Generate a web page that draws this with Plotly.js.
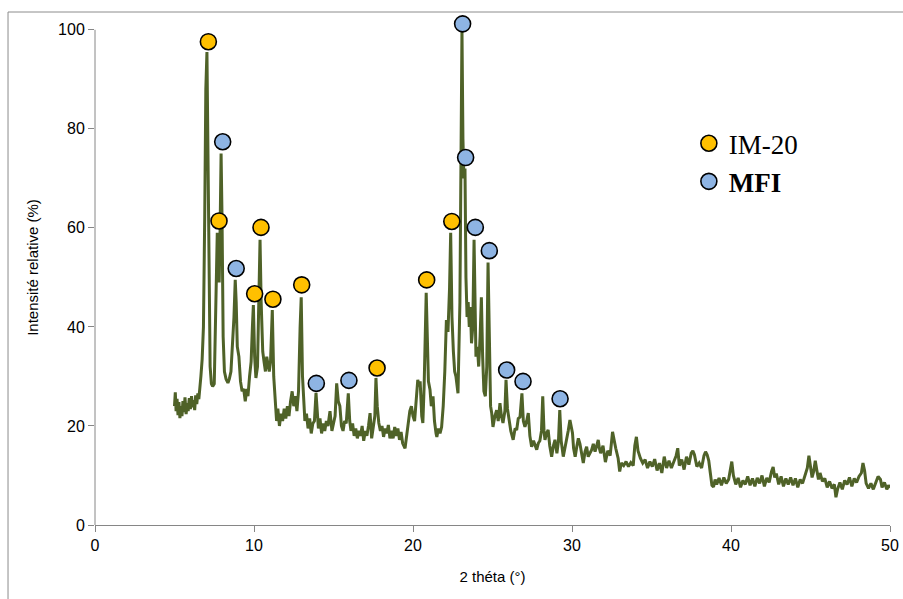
<!DOCTYPE html>
<html>
<head>
<meta charset="utf-8">
<script src="https://cdn.plot.ly/plotly-3.0.1.min.js"></script>
<style>html,body{margin:0;padding:0;background:#fff;}#chart{width:903px;height:599px;}</style>
</head>
<body>
<div id="chart"></div>
<script>
// XRD pattern: 2 theta (deg) and relative intensity (%)
const twoTheta = [
5.00,5.05,5.10,5.16,5.22,5.28,5.34,5.40,5.47,5.53,5.60,5.66,5.73,5.80,5.86,5.93,6.00,6.07,6.13,6.20,6.27,6.33,6.40,6.47,6.53,6.60,
6.66,6.74,6.82,6.90,6.97,7.04,7.10,7.16,7.24,7.32,7.40,7.50,7.58,7.64,7.69,7.75,7.81,7.87,7.93,7.99,8.06,8.14,8.24,8.36,8.45,8.55,8.65,8.74,8.82,8.88,8.95,9.05,9.15,9.25,
9.35,9.45,9.55,9.62,9.72,9.82,9.90,9.96,10.04,10.12,10.22,10.30,10.38,10.45,10.55,10.63,10.72,10.80,10.88,10.96,11.04,11.15,11.24,11.32,
11.42,11.50,11.60,11.70,11.80,11.90,12.00,12.10,12.20,12.30,12.40,12.50,12.60,12.70,12.80,12.90,12.97,13.05,13.12,13.20,13.30,13.40,13.50,13.60,13.70,13.80,13.90,13.98,
14.05,14.15,14.25,14.35,14.45,14.55,14.65,14.78,14.90,15.00,15.10,15.20,15.30,15.40,15.50,15.60,15.70,15.80,15.93,16.02,16.10,16.20,16.30,16.40,16.50,16.60,16.70,16.80,16.90,
17.00,17.10,17.20,17.30,17.40,17.50,17.60,17.67,17.75,17.85,17.95,18.05,18.15,18.25,18.35,18.45,18.55,18.65,18.75,18.85,18.95,19.05,19.15,19.25,19.35,19.50,19.60,19.70,19.80,19.90,
20.00,20.10,20.20,20.30,20.40,20.45,20.55,20.62,20.70,20.77,20.83,20.90,20.97,21.07,21.15,21.26,21.35,21.45,21.50,21.60,21.70,21.80,21.90,22.00,22.10,22.20,22.30,22.37,22.45,22.54,22.62,22.70,22.83,
22.95,23.02,23.08,23.14,23.20,23.27,23.33,23.40,23.47,23.54,23.61,23.68,23.76,23.84,23.90,23.96,24.05,24.13,24.22,24.30,24.38,24.46,24.55,24.64,24.72,24.80,24.88,24.95,25.03,
25.15,25.26,25.36,25.47,25.56,25.66,25.78,25.85,25.94,26.05,26.15,26.30,26.42,26.52,26.62,26.73,26.85,26.94,27.04,27.15,27.25,27.35,27.46,27.58,27.68,27.78,27.88,27.98,28.08,28.16,28.24,28.30,28.40,28.50,28.60,28.72,28.83,28.93,29.05,29.15,29.23,29.32,29.45,29.56,29.66,29.76,29.87,29.95,
30.03,30.10,30.20,30.30,30.40,30.50,30.60,30.71,30.82,30.92,31.02,31.13,31.24,31.34,31.45,31.55,31.65,31.72,31.80,31.95,32.10,32.25,32.40,32.55,32.65,32.75,32.90,33.00,33.10,33.25,33.40,33.55,33.70,33.85,33.95,
34.05,34.15,34.30,34.45,34.60,34.75,34.90,35.05,35.20,35.35,35.50,35.65,35.80,35.95,36.10,36.25,36.40,36.55,36.65,36.75,36.90,37.05,37.20,37.35,37.50,37.60,37.70,37.85,38.00,38.15,38.30,38.40,38.50,38.60,38.70,38.80,38.90,
39.00,39.10,39.25,39.40,39.55,39.70,39.85,39.95,40.05,40.15,40.30,40.45,40.60,40.75,40.90,41.05,41.20,41.35,41.50,41.65,41.80,41.95,42.10,42.25,42.40,42.55,42.65,42.75,42.85,
43.00,43.15,43.30,43.45,43.60,43.75,43.90,44.05,44.20,44.35,44.50,44.65,44.80,44.90,45.00,45.10,45.20,45.30,45.40,45.50,45.60,45.75,45.90,46.05,46.20,46.35,46.50,46.60,46.70,46.85,
47.00,47.15,47.30,47.45,47.60,47.75,47.90,48.05,48.20,48.30,48.40,48.50,48.65,48.80,48.95,49.10,49.25,49.40,49.50,49.65,49.80,49.90,50.00
];
const intensity = [
24,26.8,23,25.5,22.2,24.8,21.6,24,22,25,22.8,25.8,22.4,24.6,23,25.6,23.4,26,23.8,25.2,23.2,26.2,24.4,26.6,25.4,27.5,
30,33.5,40,62,88,95.5,75,45,32,28.5,28,28.5,40,55,59,53,49,60,75,62,38,31,29.5,28.7,29.5,31,36,42,49.5,45,36,34,29,27,
27.5,25,27.5,26,30,33,40,44.4,34,29.7,32,43,57.6,45,35,33,31,34,32.5,31,33,43.4,30,25,
21,23.5,20,22.5,21,23.5,21.5,24,22,25,27,24,26,23,27,40,46,30,24,21,22.5,19.5,21.5,18.5,20.5,21,26.7,22,
19.5,21.5,18.5,20.5,19,21,20,23,19,20.5,22,28.6,25,24,20,19,21,20.5,26.6,21,19,20.5,18,19.5,17.5,19,18,20,17,
19,18,20,22.6,17.5,20,22,29.7,24,20.6,19,20,17.8,19.5,18.5,20.2,17.5,19,17.5,19.8,18,19.5,17.2,18.8,16.5,15.5,18,21,23,24,
22,21,25,29.3,28,29,22,20.6,28,40,46.9,38,29,27.3,24,26,21,18.5,17.8,19.5,18.5,19.8,24,31,41.4,39,48,59,42,35,31,30,26.6,
45,80,100,78,70,72,50,42,45,40,44,36.7,40,57.6,45,34,36,32,38,46,34,27,26,32,53,38,24,22.6,19.8,
22,23.2,21,24.6,22,20.6,23,29.3,23.5,21.2,19,17.2,19.5,19.2,21.5,21.8,26.6,21,19.8,21,22.6,18,15.8,17,16,15.2,16.5,17,19,26,19,17.2,18.5,19.2,16,13.8,16,17.2,14.5,17,23.2,17,13.8,15.5,17.2,19,21.2,19.5,
18.6,15.5,13.8,15.8,17.5,16.4,14.5,12.5,14.8,15.8,13.8,14.5,15.2,16.4,14.8,16,17.2,15.5,14.5,16,12.7,15,14,18.8,17,15.5,13.5,10.8,12.5,12,12.8,11.8,12.6,12,16,
17.8,15,13.5,12.5,13.2,11.5,12.8,11.8,13.3,11,12.5,10.5,13.8,11.5,13,11.5,12.8,14,15.5,12,13.2,11.2,13.8,12.2,14.5,15,14.2,11.8,12.5,11.5,14,14.8,14.2,13,10.5,8,7.7,
9.2,8.2,9.5,8,9.6,8.4,9.2,11,12.8,10,8.2,9.5,7.6,9,8.2,9.8,8,9.4,7.8,9.5,8.4,10,7.8,9.5,8.6,10.8,11.7,9.6,10.4,
8.2,9.8,7.8,9.4,8.2,9.6,8,9.4,7.6,9.2,8.4,9.8,11.5,14,12,9.6,10.8,13,11,9.2,10.5,8.8,9.4,7.6,8.8,7.4,8.2,5.6,7.2,8.6,
7.2,9,8.2,9.6,7.8,9.4,8.6,9.8,10.5,12.5,11,8.4,7.4,8.4,7.2,8.6,9.8,9.2,7.6,8.6,7.2,8,7.5
];

// Peak assignments (marker positions)
const im20X = [7.13,7.80,10.04,10.44,11.19,13.00,17.74,20.86,22.44];
const im20Y = [97.6,61.4,46.7,60.1,45.6,48.5,31.7,49.5,61.3];
const mfiX = [8.03,8.88,13.92,15.97,23.12,23.31,23.92,24.80,25.89,26.92,29.25];
const mfiY = [77.4,51.8,28.6,29.2,101.2,74.2,60.1,55.4,31.3,29.0,25.5];

const xTicks = [0,10,20,30,40,50];
const yTicks = [0,20,40,60,80,100];

const axisCol = '#868686';
const tickFont = {family:'Liberation Sans, Arial, sans-serif', size:16, color:'#000'};

const traces = [
  {x: twoTheta, y: intensity, type:'scatter', mode:'lines', showlegend:false,
   line:{color:'#4f6228', width:3}, hoverinfo:'skip'},
  {x: im20X, y: im20Y, type:'scatter', mode:'markers', name:'IM-20', cliponaxis:false,
   marker:{symbol:'circle', size:16, color:'#ffc000', line:{color:'#000', width:1.6}}},
  {x: mfiX, y: mfiY, type:'scatter', mode:'markers', name:'<b>MFI</b>', cliponaxis:false,
   marker:{symbol:'circle', size:16, color:'#8eb4e3', line:{color:'#000', width:1.6}}}
];

// plot area: y range extends a little above 100 so the top marker is kept;
// the y axis line itself is drawn only from 0 to 100 as in the original.
const layout = {
  width:903, height:599,
  margin:{l:95, r:13, t:10, b:74},
  paper_bgcolor:'#fff', plot_bgcolor:'#fff',
  showlegend:true,
  legend:{x:0.747, y:0.788, xanchor:'left', yanchor:'top', bgcolor:'rgba(0,0,0,0)',
          font:{family:'Liberation Serif, Times New Roman, serif', size:27, color:'#000'},
          traceorder:'normal', tracegroupgap:5, itemclick:false},
  xaxis:{range:[0,50], tickvals:xTicks, ticktext:xTicks.map(String), showgrid:false, zeroline:false,
         showline:true, linecolor:axisCol, linewidth:1, ticks:'outside', ticklen:6, tickcolor:axisCol,
         tickfont:tickFont, fixedrange:true,
         title:{text:'2 théta (°)', font:{family:'Liberation Sans, Arial, sans-serif', size:15, color:'#000'}, standoff:18}},
  yaxis:{range:[0,104], tickvals:yTicks, ticktext:yTicks.map(String), showgrid:false, zeroline:false,
         showline:false, ticks:'outside', ticklen:6, tickcolor:axisCol,
         tickfont:tickFont, fixedrange:true,
         title:{text:'Intensité relative (%)', font:{family:'Liberation Sans, Arial, sans-serif', size:15, color:'#000'}, standoff:15}},
  shapes:[
    {type:'line', xref:'paper', yref:'y', x0:0, x1:0, y0:0, y1:100,
     line:{color:axisCol, width:1}, layer:'above'},
    {type:'rect', xref:'paper', yref:'paper', x0:-0.1094, x1:1.03, y0:-0.17, y1:0.9961,
     line:{color:'#8c8c8c', width:1}, fillcolor:'rgba(0,0,0,0)', layer:'below'}
  ]
};

Plotly.newPlot('chart', traces, layout, {displayModeBar:false, staticPlot:true});
</script>
</body>
</html>
